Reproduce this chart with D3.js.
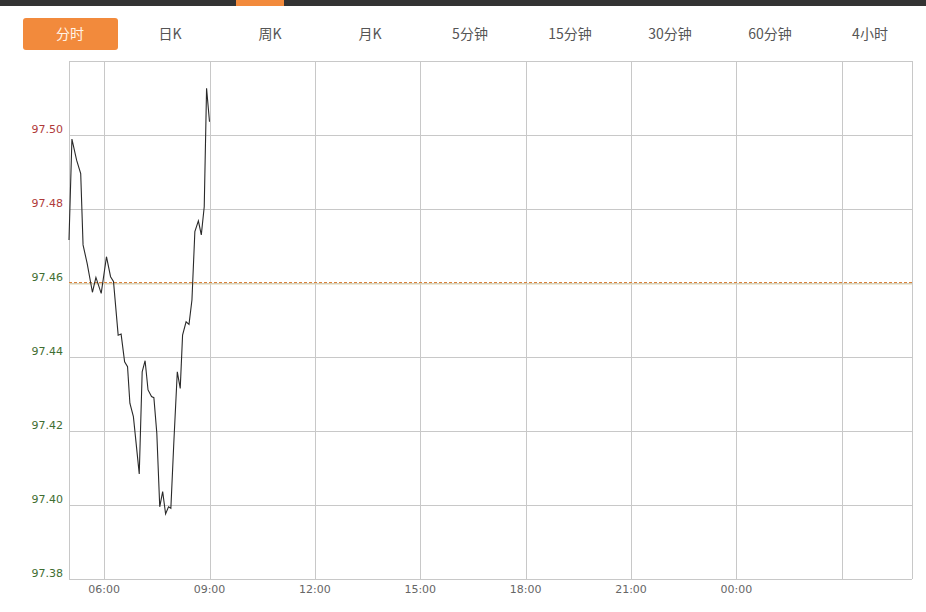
<!DOCTYPE html>
<html>
<head>
<meta charset="utf-8">
<script src="https://cdn.jsdelivr.net/npm/d3@7"></script>
<style>
  body { margin: 0; background: #fff; }
  svg { display: block; }
</style>
</head>
<body>
<div id="graph"></div>
<script>
// tabs across the top
var tabs = ["分时", "日K", "周K", "月K", "5分钟", "15分钟", "30分钟", "60分钟", "4小时"];
var activeTab = 0;

// intraday price series (time of day, price)
var times = ["05:00", "05:05", "05:13", "05:20", "05:24", "05:31", "05:40", "05:46", "05:55",
  "06:04", "06:11", "06:16", "06:24", "06:29", "06:35", "06:40", "06:44", "06:50",
  "07:00", "07:05", "07:10", "07:15", "07:21", "07:25", "07:30", "07:35", "07:40",
  "07:45", "07:50", "07:54", "07:59", "08:05", "08:10", "08:14", "08:20", "08:25",
  "08:30", "08:35", "08:41", "08:46", "08:51", "08:55", "09:00"];
var prices = [97.4716, 97.4989, 97.4932, 97.4896, 97.4703, 97.4653, 97.4575, 97.4615, 97.4572,
  97.4671, 97.4617, 97.4604, 97.4459, 97.4462, 97.4387, 97.4374, 97.4275, 97.4239,
  97.4084, 97.4360, 97.4390, 97.4311, 97.4293, 97.4290, 97.4194, 97.3995, 97.4036,
  97.3976, 97.3995, 97.3991, 97.4167, 97.4360, 97.4315, 97.4459, 97.4495, 97.4488,
  97.4554, 97.4739, 97.4768, 97.4730, 97.4806, 97.5126, 97.5036];

var prevClose = 97.4604;

var yTicks = [97.38, 97.40, 97.42, 97.44, 97.46, 97.48, 97.50, 97.52];
var xTickHours = [6, 9, 12, 15, 18, 21, 24, 27];
var xTickLabels = ["06:00", "09:00", "12:00", "15:00", "18:00", "21:00", "00:00", ""];

var W = 926, H = 612;
var margin = { top: 61, right: 14, bottom: 33, left: 69 };
var width = W - margin.left - margin.right;
var height = H - margin.top - margin.bottom;

function toDate(hhmm) {
  var p = hhmm.split(":");
  return new Date(2000, 0, 1, +p[0], +p[1]);
}

var xScale = d3.scaleTime()
  .domain([new Date(2000, 0, 1, 5, 0), new Date(2000, 0, 2, 5, 0)])
  .range([0, width]);
var yScale = d3.scaleLinear()
  .domain([97.38, 97.52])
  .range([height, 0]);

var root = d3.select("#graph").append("svg")
  .attr("width", W)
  .attr("height", H);

// top dark strip with highlight
root.append("rect").attr("x", 0).attr("y", 0).attr("width", W).attr("height", 6).attr("fill", "#333");
root.append("rect").attr("x", 236).attr("y", 0).attr("width", 48).attr("height", 6).attr("fill", "#f28a3c");

// tab bar
var tabG = root.append("g");
tabs.forEach(function (t, i) {
  var cx = 70 + i * 100;
  if (i === activeTab) {
    tabG.append("rect")
      .attr("x", 23).attr("y", 18).attr("width", 95).attr("height", 32)
      .attr("rx", 3)
      .attr("fill", "#f28a3c");
  }
  tabG.append("text")
    .attr("x", cx).attr("y", 39)
    .attr("text-anchor", "middle")
    .attr("font-family", "'Noto Sans CJK SC', 'DejaVu Sans', sans-serif")
    .attr("font-size", "14px")
    .attr("fill", i === activeTab ? "#fff3e6" : "#555")
    .text(t);
});

var svg = root.append("g")
  .attr("transform", "translate(" + margin.left + "," + margin.top + ")");

var gridColor = "#c8c8c8";

// horizontal grid
svg.selectAll(".hgrid").data(yTicks).enter().append("line")
  .attr("class", "hgrid")
  .attr("x1", 0).attr("x2", width)
  .attr("y1", function (d) { return Math.round(yScale(d)) + 0.5; })
  .attr("y2", function (d) { return Math.round(yScale(d)) + 0.5; })
  .attr("stroke", gridColor);

// vertical grid
var xTickDates = xTickHours.map(function (h) { return new Date(2000, 0, 1, h, 0); });
svg.selectAll(".vgrid").data(xTickDates).enter().append("line")
  .attr("class", "vgrid")
  .attr("y1", 0).attr("y2", height)
  .attr("x1", function (d) { return Math.round(xScale(d)) + 0.5; })
  .attr("x2", function (d) { return Math.round(xScale(d)) + 0.5; })
  .attr("stroke", gridColor);

// frame left / right
[0, width].forEach(function (x) {
  svg.append("line")
    .attr("x1", Math.round(x) + 0.5).attr("x2", Math.round(x) + 0.5)
    .attr("y1", 0).attr("y2", height)
    .attr("stroke", gridColor);
});

// y labels
svg.selectAll(".ylab").data(yTicks.filter(function (d) { return d < 97.51; })).enter().append("text")
  .attr("class", "ylab")
  .attr("x", -6)
  .attr("y", function (d) { return yScale(d) - 2; })
  .attr("text-anchor", "end")
  .attr("font-family", "'DejaVu Sans', sans-serif")
  .attr("font-size", "11px")
  .attr("fill", function (d) { return d > prevClose ? "#b03a3a" : "#3f6e32"; })
  .text(function (d) { return d3.format(".2f")(d); });

// x labels
svg.selectAll(".xlab").data(xTickDates).enter().append("text")
  .attr("class", "xlab")
  .attr("x", function (d) { return xScale(d); })
  .attr("y", height + 14)
  .attr("text-anchor", "middle")
  .attr("font-family", "'DejaVu Sans', sans-serif")
  .attr("font-size", "11px")
  .attr("fill", "#666")
  .text(function (d, i) { return xTickLabels[i]; });

// previous close reference lines
var yc = Math.round(yScale(prevClose)) + 0.5;
svg.append("line")
  .attr("x1", 0).attr("x2", width)
  .attr("y1", yc + 1.5).attr("y2", yc + 1.5)
  .attr("stroke", "#e2d6b0").attr("stroke-width", 1);
svg.append("line")
  .attr("x1", 0).attr("x2", width)
  .attr("y1", yc).attr("y2", yc)
  .attr("stroke", "#d9823a").attr("stroke-width", 1)
  .attr("stroke-dasharray", "3,2");

// price line
var series = times.map(function (t, i) { return { t: toDate(t), p: prices[i] }; });
svg.append("path")
  .datum(series)
  .attr("fill", "none")
  .attr("stroke", "#2a2a2a")
  .attr("stroke-width", 1.1)
  .attr("d", d3.line()
    .x(function (d) { return xScale(d.t); })
    .y(function (d) { return yScale(d.p); }));
</script>
</body>
</html>
